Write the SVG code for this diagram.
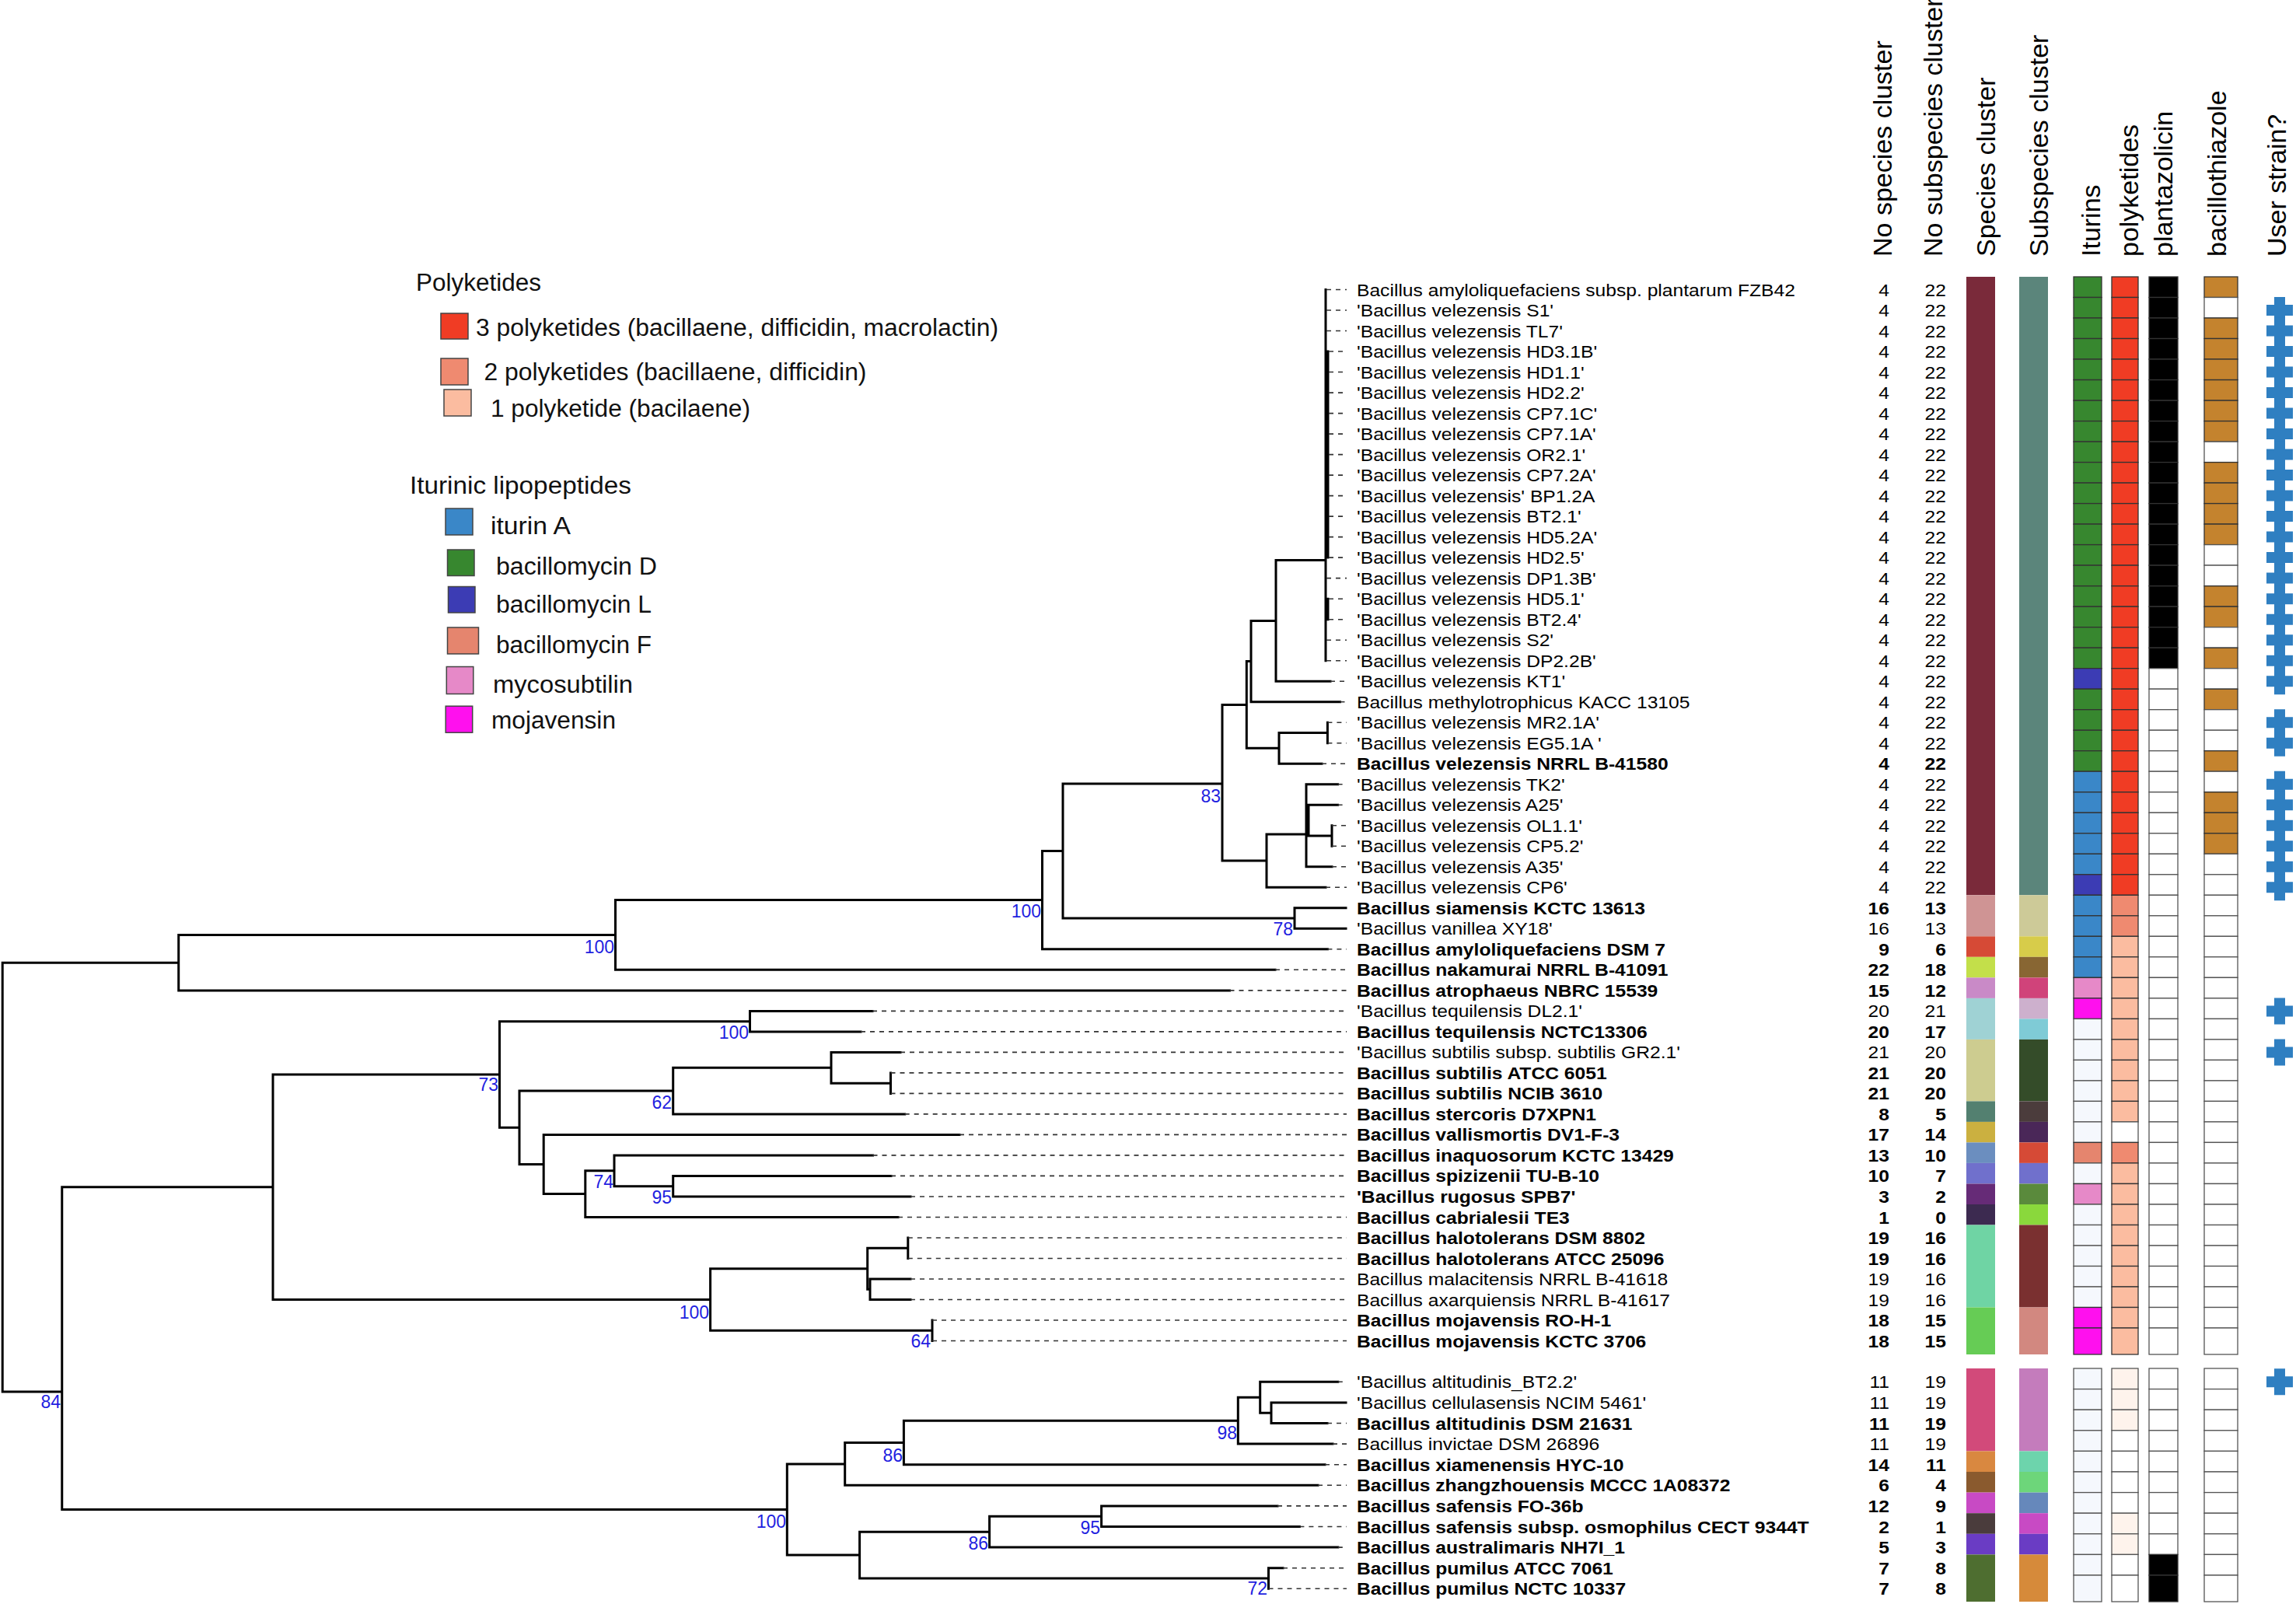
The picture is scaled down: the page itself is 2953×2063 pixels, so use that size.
<svg xmlns="http://www.w3.org/2000/svg" width="2953" height="2063" viewBox="0 0 2953 2063">
<style>
text{font-family:"Liberation Sans",Arial,sans-serif}
.l{font-size:22px;fill:#000}
.n{font-size:22px;fill:#000;text-anchor:end}
.b{font-weight:700}
.h{font-size:34px;fill:#000}
.lg{font-size:31px;fill:#111}
.bs{font-size:23px;fill:#1f1fe0;text-anchor:end}
.tree{fill:none;stroke:#000;stroke-width:3;stroke-linecap:square}
.dash{fill:none;stroke:#333;stroke-width:1.6;stroke-dasharray:6 6}
rect{stroke:#333;stroke-width:1.3}
.bar rect{stroke:none}
.ig{fill:#37872f}.il{fill:#3c3cb4}.ia{fill:#3a87c8}.im{fill:#e689c8}.ij{fill:#ff10ee}.if{fill:#e5856e}.ie{fill:#f5f8fd;stroke:#555}
.p3{fill:#f03c24}.p2{fill:#ef8a70}.p1{fill:#fbbca0}.p0{fill:#fff;stroke:#555}.pv{fill:#fef3ec;stroke:#555}
.k{fill:#000}.w{fill:#fff;stroke:#555}.t{fill:#c4832e}
.cr{fill:#2f7fc1}
.lsq{stroke:#444;stroke-width:1.5}
</style>
<defs>
<path id="cross" class="cr" d="M-7,-17H7V-7H17V7H7V17H-7V7H-17V-7H-7Z"/>
</defs>

<g id="headers">
<text class="h" transform="translate(2433 330) rotate(-90)">No species cluster</text>
<text class="h" transform="translate(2498 330) rotate(-90)">No subspecies cluster</text>
<text class="h" transform="translate(2566 330) rotate(-90)">Species cluster</text>
<text class="h" transform="translate(2634 330) rotate(-90)">Subspecies cluster</text>
<text class="h" transform="translate(2701 330) rotate(-90)">Iturins</text>
<text class="h" transform="translate(2750 330) rotate(-90)">polyketides</text>
<text class="h" transform="translate(2794 330) rotate(-90)">plantazolicin</text>
<text class="h" transform="translate(2863 330) rotate(-90)">bacillothiazole</text>
<text class="h" transform="translate(2940 330) rotate(-90)">User strain?</text>
</g>

<g id="legend">
<text class="lg" x="535" y="373.6" textLength="161" lengthAdjust="spacingAndGlyphs">Polyketides</text>
<rect class="lsq" x="567" y="403" width="35" height="33" fill="#f03c24"/>
<text class="lg" x="612" y="432" textLength="672" lengthAdjust="spacingAndGlyphs">3 polyketides (bacillaene, difficidin, macrolactin)</text>
<rect class="lsq" x="567" y="461" width="35" height="34" fill="#ef8a70"/>
<text class="lg" x="622.5" y="488.6" textLength="492" lengthAdjust="spacingAndGlyphs">2 polyketides (bacillaene, difficidin)</text>
<rect class="lsq" x="571" y="501" width="35" height="34" fill="#fbbca0"/>
<text class="lg" x="631" y="536" textLength="334" lengthAdjust="spacingAndGlyphs">1 polyketide (bacilaene)</text>
<text class="lg" x="527" y="635.4" textLength="285" lengthAdjust="spacingAndGlyphs">Iturinic lipopeptides</text>
<rect class="lsq" x="573" y="654" width="35" height="34" fill="#3a87c8"/>
<text class="lg" x="631" y="687" textLength="103" lengthAdjust="spacingAndGlyphs">iturin A</text>
<rect class="lsq" x="575.5" y="707" width="34.5" height="33.5" fill="#37872f"/>
<text class="lg" x="638" y="738.5" textLength="207" lengthAdjust="spacingAndGlyphs">bacillomycin D</text>
<rect class="lsq" x="576.5" y="754.5" width="34.5" height="33.5" fill="#3c3cb4"/>
<text class="lg" x="638" y="788" textLength="200" lengthAdjust="spacingAndGlyphs">bacillomycin L</text>
<rect class="lsq" x="575.5" y="807" width="40" height="34" fill="#e5856e"/>
<text class="lg" x="638" y="839.6" textLength="200" lengthAdjust="spacingAndGlyphs">bacillomycin F</text>
<rect class="lsq" x="574.3" y="857.5" width="34.5" height="35" fill="#e689c8"/>
<text class="lg" x="634" y="891" textLength="180" lengthAdjust="spacingAndGlyphs">mycosubtilin</text>
<rect class="lsq" x="573.2" y="908.2" width="34.5" height="34" fill="#ff10ee"/>
<text class="lg" x="632" y="937" textLength="160" lengthAdjust="spacingAndGlyphs">mojavensin</text>
</g>

<g id="tree">
<path class="tree" d="M3.2,1238.2V1789.9 M3.2,1238.2H229.7 M229.7,1202.5V1273.9 M229.7,1202.5H791.5 M229.7,1273.9H1581.5
M791.5,1157.6V1247.3 M791.5,1157.6H1340.5 M791.5,1247.3H1640
M1340.5,1094.5V1220.8 M1340.5,1094.5H1367 M1340.5,1220.8H1707.4
M1367,1008V1181 M1367,1008H1572 M1367,1181H1665
M1665,1167.8V1194.3 M1665,1167.8H1731 M1665,1194.3H1731
M1572,906.4V1107 M1572,906.4H1603.3 M1572,1107H1629
M1603.3,850.5V962.3 M1603.3,850.5H1609 M1603.3,962.3H1645
M1609,798.4V902.7 M1609,798.4H1641 M1609,902.7H1723.5
M1641,720.5V876.2 M1641,720.5H1705 M1641,876.2H1711
M1705,372.5V849.7 M1708,452V717.1 M1708,770.2V796.7
M1645,942.5V982.2 M1645,942.5H1707.4 M1645,982.2H1700
M1707.4,929.2V955.7
M1629,1073V1141.3 M1629,1073H1680 M1629,1141.3H1705
M1680,1008.7V1114.8 M1683,1035.3V1075 M1680,1008.7H1720.6 M1683,1035.3H1720.6 M1683,1075H1713
M1713,1061.8V1088.3 M1680,1114.8H1713
M3.2,1789.9H79.75 M79.75,1526.8V1941.5 M79.75,1526.8H351 M79.75,1941.5H1012.3
M351,1382V1671.5 M351,1382H642.5 M351,1671.5H913.6
M642.5,1313.7V1450.3 M642.5,1313.7H964.5 M642.5,1450.3H668
M964.5,1300.4V1326.9 M964.5,1300.4H1122 M964.5,1326.9H1107
M668,1403.1V1497.5 M668,1403.1H865.7 M668,1497.5H699.2
M865.7,1373.3V1432.9 M865.7,1373.3H1069 M865.7,1432.9H1163.7
M1069,1353.4V1393.2 M1069,1353.4H1158 M1069,1393.2H1145.5
M1145.5,1379.9V1406.4
M699.2,1459.4V1535.6 M699.2,1459.4H1234 M699.2,1535.6H752.8
M752.8,1505.8V1565.5 M752.8,1505.8H790 M752.8,1565.5H1155
M790,1485.9V1525.7 M790,1485.9H1122.5 M790,1525.7H865.7
M865.7,1512.4V1539 M865.7,1512.4H1146 M865.7,1539H1171
M913.6,1631.7V1711.2 M913.6,1631.7H1115.7 M913.6,1711.2H1199
M1115.7,1605.2V1658.2 M1115.7,1605.2H1167.8 M1115.7,1658.2H1119
M1167.8,1592V1618.5 M1119,1645V1671.5 M1119,1645H1171 M1119,1671.5H1171
M1199,1698V1724.5
M1012.3,1882.9V2000.1 M1012.3,1882.9H1086.7 M1012.3,2000.1H1105.6
M1086.7,1855.5V1910.3 M1086.7,1855.5H1162.4 M1086.7,1910.3H1695
M1162.4,1827.2V1883.7 M1162.4,1827.2H1592.3 M1162.4,1883.7H1704
M1592.3,1797.3V1857.1 M1592.3,1797.3H1620.7 M1592.3,1857.1H1714
M1620.7,1777.3V1817.2 M1620.7,1777.3H1720.8 M1620.7,1817.2H1635
M1635,1803.9V1830.5 M1635,1803.9H1731 M1635,1830.5H1707
M1105.6,1970.2V2030 M1105.6,1970.2H1272.6 M1105.6,2030H1631.5
M1272.6,1950.2V1990.1 M1272.6,1950.2H1416.6 M1272.6,1990.1H1720.8
M1416.6,1936.9V1963.5 M1416.6,1936.9H1643 M1416.6,1963.5H1671.4
M1631.5,2016.7V2043.3 M1631.5,2016.7H1650"/>
<path class="dash" d="M1706,372.5H1732 M1706,399H1732 M1706,425.5H1732 M1709,452H1732 M1709,478.5H1732 M1709,505.1H1732 M1709,531.6H1732 M1709,558.1H1732 M1709,584.6H1732 M1709,611.1H1732 M1709,637.6H1732 M1709,664.1H1732 M1709,690.6H1732 M1709,717.1H1732 M1706,743.6H1732 M1709,770.2H1732 M1709,796.7H1732 M1706,823.2H1732 M1706,849.7H1732
M1711,876.2H1732 M1723.5,902.7H1732 M1707.4,929.2H1732 M1707.4,955.7H1732 M1700,982.2H1732 M1720.6,1008.7H1732 M1720.6,1035.3H1732 M1713,1061.8H1732 M1713,1088.3H1732 M1713,1114.8H1732 M1705,1141.3H1732
M1707.4,1220.8H1732 M1640,1247.3H1732 M1581.5,1273.9H1732 M1122,1300.4H1732 M1107,1326.9H1732 M1158,1353.4H1732 M1145.5,1379.9H1732 M1145.5,1406.4H1732 M1163.7,1432.9H1732 M1234,1459.4H1732 M1122.5,1485.9H1732 M1146,1512.4H1732 M1171,1539H1732 M1155,1565.5H1732 M1167.8,1592H1732 M1167.8,1618.5H1732 M1171,1645H1732 M1171,1671.5H1732 M1199,1698H1732 M1199,1724.5H1732
M1720.8,1777.3H1732 M1707,1830.5H1732 M1714,1857.1H1732 M1704,1883.7H1732 M1695,1910.3H1732 M1643,1936.9H1732 M1671.4,1963.5H1732 M1720.8,1990.1H1732 M1650,2016.7H1732 M1631.5,2043.3H1732"/>
<g id="bootstrap">
<text class="bs" x="790" y="1226">100</text>
<text class="bs" x="1339" y="1180">100</text>
<text class="bs" x="1570" y="1032">83</text>
<text class="bs" x="1663" y="1203">78</text>
<text class="bs" x="963" y="1336">100</text>
<text class="bs" x="641" y="1403">73</text>
<text class="bs" x="864" y="1426">62</text>
<text class="bs" x="789" y="1528">74</text>
<text class="bs" x="864" y="1548">95</text>
<text class="bs" x="912" y="1696">100</text>
<text class="bs" x="1197" y="1733">64</text>
<text class="bs" x="78" y="1811">84</text>
<text class="bs" x="1011" y="1965">100</text>
<text class="bs" x="1161" y="1880">86</text>
<text class="bs" x="1591" y="1851">98</text>
<text class="bs" x="1271" y="1993">86</text>
<text class="bs" x="1415" y="1973">95</text>
<text class="bs" x="1630" y="2051">72</text>
</g>
</g>

<g id="species-bars" class="bar">
<rect x="2529" y="356" width="37" height="795.3" fill="#7a2a3a"/>
<rect x="2529" y="1151.3" width="37" height="53" fill="#cf9494"/>
<rect x="2529" y="1204.3" width="37" height="26.5" fill="#d64a36"/>
<rect x="2529" y="1230.8" width="37" height="26.6" fill="#c3df4a"/>
<rect x="2529" y="1257.4" width="37" height="26.5" fill="#c98ac7"/>
<rect x="2529" y="1283.9" width="37" height="53" fill="#9fd2d4"/>
<rect x="2529" y="1336.9" width="37" height="79.5" fill="#cdcc90"/>
<rect x="2529" y="1416.4" width="37" height="26.5" fill="#538070"/>
<rect x="2529" y="1442.9" width="37" height="26.5" fill="#cbb040"/>
<rect x="2529" y="1469.4" width="37" height="26.5" fill="#6b8ebf"/>
<rect x="2529" y="1495.9" width="37" height="26.6" fill="#7070cc"/>
<rect x="2529" y="1522.5" width="37" height="26.5" fill="#662b77"/>
<rect x="2529" y="1549" width="37" height="26.5" fill="#3c2a50"/>
<rect x="2529" y="1575.5" width="37" height="106" fill="#6fd4a4"/>
<rect x="2529" y="1681.5" width="37" height="60.5" fill="#66cc55"/>
<rect x="2529" y="1760" width="37" height="106.4" fill="#d24a7a"/>
<rect x="2529" y="1866.4" width="37" height="26.6" fill="#d98840"/>
<rect x="2529" y="1893" width="37" height="26.6" fill="#8a5a2e"/>
<rect x="2529" y="1919.6" width="37" height="26.6" fill="#c84ac4"/>
<rect x="2529" y="1946.2" width="37" height="26.6" fill="#4a3c3c"/>
<rect x="2529" y="1972.8" width="37" height="26.6" fill="#6a3cc4"/>
<rect x="2529" y="1999.4" width="37" height="60.6" fill="#4e6e30"/>
</g>
<g id="subspecies-bars" class="bar">
<rect x="2597" y="356" width="37" height="795.3" fill="#5b857b"/>
<rect x="2597" y="1151.3" width="37" height="53" fill="#cdca98"/>
<rect x="2597" y="1204.3" width="37" height="26.5" fill="#d7cc4a"/>
<rect x="2597" y="1230.8" width="37" height="26.6" fill="#886633"/>
<rect x="2597" y="1257.4" width="37" height="26.5" fill="#d0437a"/>
<rect x="2597" y="1283.9" width="37" height="26.5" fill="#cdb0cd"/>
<rect x="2597" y="1310.4" width="37" height="26.5" fill="#7fcbd6"/>
<rect x="2597" y="1336.9" width="37" height="79.5" fill="#344c29"/>
<rect x="2597" y="1416.4" width="37" height="26.5" fill="#4b3c3c"/>
<rect x="2597" y="1442.9" width="37" height="26.5" fill="#4a2758"/>
<rect x="2597" y="1469.4" width="37" height="26.5" fill="#d64a36"/>
<rect x="2597" y="1495.9" width="37" height="26.6" fill="#7070cc"/>
<rect x="2597" y="1522.5" width="37" height="26.5" fill="#5a8a3c"/>
<rect x="2597" y="1549" width="37" height="26.5" fill="#8ad83c"/>
<rect x="2597" y="1575.5" width="37" height="106" fill="#7a3030"/>
<rect x="2597" y="1681.5" width="37" height="60.5" fill="#d28880"/>
<rect x="2597" y="1760" width="37" height="106.4" fill="#c47cbc"/>
<rect x="2597" y="1866.4" width="37" height="26.6" fill="#6dd4ac"/>
<rect x="2597" y="1893" width="37" height="26.6" fill="#6dd67a"/>
<rect x="2597" y="1919.6" width="37" height="26.6" fill="#6688bb"/>
<rect x="2597" y="1946.2" width="37" height="26.6" fill="#c84ac4"/>
<rect x="2597" y="1972.8" width="37" height="26.6" fill="#6a3cc4"/>
<rect x="2597" y="1999.4" width="37" height="60.6" fill="#d68a3a"/>
</g>

<g id="r01"><text class="l" transform="matrix(1.12 0 0 1 1745 380.5)">Bacillus amyloliquefaciens subsp. plantarum FZB42</text><text class="n" transform="matrix(1.12 0 0 1 2430 380.5)">4</text><text class="n" transform="matrix(1.12 0 0 1 2503 380.5)">22</text><rect class="ig" x="2667" y="356" width="36" height="26.5"/><rect class="p3" x="2716" y="356" width="34" height="26.5"/><rect class="k" x="2764" y="356" width="37" height="26.5"/><rect class="t" x="2835" y="356" width="43" height="26.5"/></g>
<g id="r02"><text class="l" transform="matrix(1.12 0 0 1 1745 407)">'Bacillus velezensis S1'</text><text class="n" transform="matrix(1.12 0 0 1 2430 407)">4</text><text class="n" transform="matrix(1.12 0 0 1 2503 407)">22</text><rect class="ig" x="2667" y="382.5" width="36" height="26.5"/><rect class="p3" x="2716" y="382.5" width="34" height="26.5"/><rect class="k" x="2764" y="382.5" width="37" height="26.5"/><rect class="w" x="2835" y="382.5" width="43" height="26.5"/><use href="#cross" x="2932" y="399"/></g>
<g id="r03"><text class="l" transform="matrix(1.12 0 0 1 1745 433.5)">'Bacillus velezensis TL7'</text><text class="n" transform="matrix(1.12 0 0 1 2430 433.5)">4</text><text class="n" transform="matrix(1.12 0 0 1 2503 433.5)">22</text><rect class="ig" x="2667" y="409" width="36" height="26.5"/><rect class="p3" x="2716" y="409" width="34" height="26.5"/><rect class="k" x="2764" y="409" width="37" height="26.5"/><rect class="t" x="2835" y="409" width="43" height="26.5"/><use href="#cross" x="2932" y="425.5"/></g>
<g id="r04"><text class="l" transform="matrix(1.12 0 0 1 1745 460)">'Bacillus velezensis HD3.1B'</text><text class="n" transform="matrix(1.12 0 0 1 2430 460)">4</text><text class="n" transform="matrix(1.12 0 0 1 2503 460)">22</text><rect class="ig" x="2667" y="435.5" width="36" height="26.5"/><rect class="p3" x="2716" y="435.5" width="34" height="26.5"/><rect class="k" x="2764" y="435.5" width="37" height="26.5"/><rect class="t" x="2835" y="435.5" width="43" height="26.5"/><use href="#cross" x="2932" y="452"/></g>
<g id="r05"><text class="l" transform="matrix(1.12 0 0 1 1745 486.5)">'Bacillus velezensis HD1.1'</text><text class="n" transform="matrix(1.12 0 0 1 2430 486.5)">4</text><text class="n" transform="matrix(1.12 0 0 1 2503 486.5)">22</text><rect class="ig" x="2667" y="462" width="36" height="26.5"/><rect class="p3" x="2716" y="462" width="34" height="26.5"/><rect class="k" x="2764" y="462" width="37" height="26.5"/><rect class="t" x="2835" y="462" width="43" height="26.5"/><use href="#cross" x="2932" y="478.5"/></g>
<g id="r06"><text class="l" transform="matrix(1.12 0 0 1 1745 513.1)">'Bacillus velezensis HD2.2'</text><text class="n" transform="matrix(1.12 0 0 1 2430 513.1)">4</text><text class="n" transform="matrix(1.12 0 0 1 2503 513.1)">22</text><rect class="ig" x="2667" y="488.6" width="36" height="26.5"/><rect class="p3" x="2716" y="488.6" width="34" height="26.5"/><rect class="k" x="2764" y="488.6" width="37" height="26.5"/><rect class="t" x="2835" y="488.6" width="43" height="26.5"/><use href="#cross" x="2932" y="505.1"/></g>
<g id="r07"><text class="l" transform="matrix(1.12 0 0 1 1745 539.6)">'Bacillus velezensis CP7.1C'</text><text class="n" transform="matrix(1.12 0 0 1 2430 539.6)">4</text><text class="n" transform="matrix(1.12 0 0 1 2503 539.6)">22</text><rect class="ig" x="2667" y="515.1" width="36" height="26.5"/><rect class="p3" x="2716" y="515.1" width="34" height="26.5"/><rect class="k" x="2764" y="515.1" width="37" height="26.5"/><rect class="t" x="2835" y="515.1" width="43" height="26.5"/><use href="#cross" x="2932" y="531.6"/></g>
<g id="r08"><text class="l" transform="matrix(1.12 0 0 1 1745 566.1)">'Bacillus velezensis CP7.1A'</text><text class="n" transform="matrix(1.12 0 0 1 2430 566.1)">4</text><text class="n" transform="matrix(1.12 0 0 1 2503 566.1)">22</text><rect class="ig" x="2667" y="541.6" width="36" height="26.5"/><rect class="p3" x="2716" y="541.6" width="34" height="26.5"/><rect class="k" x="2764" y="541.6" width="37" height="26.5"/><rect class="t" x="2835" y="541.6" width="43" height="26.5"/><use href="#cross" x="2932" y="558.1"/></g>
<g id="r09"><text class="l" transform="matrix(1.12 0 0 1 1745 592.6)">'Bacillus velezensis OR2.1'</text><text class="n" transform="matrix(1.12 0 0 1 2430 592.6)">4</text><text class="n" transform="matrix(1.12 0 0 1 2503 592.6)">22</text><rect class="ig" x="2667" y="568.1" width="36" height="26.5"/><rect class="p3" x="2716" y="568.1" width="34" height="26.5"/><rect class="k" x="2764" y="568.1" width="37" height="26.5"/><rect class="w" x="2835" y="568.1" width="43" height="26.5"/><use href="#cross" x="2932" y="584.6"/></g>
<g id="r10"><text class="l" transform="matrix(1.12 0 0 1 1745 619.1)">'Bacillus velezensis CP7.2A'</text><text class="n" transform="matrix(1.12 0 0 1 2430 619.1)">4</text><text class="n" transform="matrix(1.12 0 0 1 2503 619.1)">22</text><rect class="ig" x="2667" y="594.6" width="36" height="26.5"/><rect class="p3" x="2716" y="594.6" width="34" height="26.5"/><rect class="k" x="2764" y="594.6" width="37" height="26.5"/><rect class="t" x="2835" y="594.6" width="43" height="26.5"/><use href="#cross" x="2932" y="611.1"/></g>
<g id="r11"><text class="l" transform="matrix(1.12 0 0 1 1745 645.6)">'Bacillus velezensis' BP1.2A</text><text class="n" transform="matrix(1.12 0 0 1 2430 645.6)">4</text><text class="n" transform="matrix(1.12 0 0 1 2503 645.6)">22</text><rect class="ig" x="2667" y="621.1" width="36" height="26.5"/><rect class="p3" x="2716" y="621.1" width="34" height="26.5"/><rect class="k" x="2764" y="621.1" width="37" height="26.5"/><rect class="t" x="2835" y="621.1" width="43" height="26.5"/><use href="#cross" x="2932" y="637.6"/></g>
<g id="r12"><text class="l" transform="matrix(1.12 0 0 1 1745 672.1)">'Bacillus velezensis BT2.1'</text><text class="n" transform="matrix(1.12 0 0 1 2430 672.1)">4</text><text class="n" transform="matrix(1.12 0 0 1 2503 672.1)">22</text><rect class="ig" x="2667" y="647.6" width="36" height="26.5"/><rect class="p3" x="2716" y="647.6" width="34" height="26.5"/><rect class="k" x="2764" y="647.6" width="37" height="26.5"/><rect class="t" x="2835" y="647.6" width="43" height="26.5"/><use href="#cross" x="2932" y="664.1"/></g>
<g id="r13"><text class="l" transform="matrix(1.12 0 0 1 1745 698.6)">'Bacillus velezensis HD5.2A'</text><text class="n" transform="matrix(1.12 0 0 1 2430 698.6)">4</text><text class="n" transform="matrix(1.12 0 0 1 2503 698.6)">22</text><rect class="ig" x="2667" y="674.1" width="36" height="26.5"/><rect class="p3" x="2716" y="674.1" width="34" height="26.5"/><rect class="k" x="2764" y="674.1" width="37" height="26.5"/><rect class="t" x="2835" y="674.1" width="43" height="26.5"/><use href="#cross" x="2932" y="690.6"/></g>
<g id="r14"><text class="l" transform="matrix(1.12 0 0 1 1745 725.1)">'Bacillus velezensis HD2.5'</text><text class="n" transform="matrix(1.12 0 0 1 2430 725.1)">4</text><text class="n" transform="matrix(1.12 0 0 1 2503 725.1)">22</text><rect class="ig" x="2667" y="700.6" width="36" height="26.5"/><rect class="p3" x="2716" y="700.6" width="34" height="26.5"/><rect class="k" x="2764" y="700.6" width="37" height="26.5"/><rect class="w" x="2835" y="700.6" width="43" height="26.5"/><use href="#cross" x="2932" y="717.1"/></g>
<g id="r15"><text class="l" transform="matrix(1.12 0 0 1 1745 751.6)">'Bacillus velezensis DP1.3B'</text><text class="n" transform="matrix(1.12 0 0 1 2430 751.6)">4</text><text class="n" transform="matrix(1.12 0 0 1 2503 751.6)">22</text><rect class="ig" x="2667" y="727.1" width="36" height="26.5"/><rect class="p3" x="2716" y="727.1" width="34" height="26.5"/><rect class="k" x="2764" y="727.1" width="37" height="26.5"/><rect class="w" x="2835" y="727.1" width="43" height="26.5"/><use href="#cross" x="2932" y="743.6"/></g>
<g id="r16"><text class="l" transform="matrix(1.12 0 0 1 1745 778.2)">'Bacillus velezensis HD5.1'</text><text class="n" transform="matrix(1.12 0 0 1 2430 778.2)">4</text><text class="n" transform="matrix(1.12 0 0 1 2503 778.2)">22</text><rect class="ig" x="2667" y="753.7" width="36" height="26.5"/><rect class="p3" x="2716" y="753.7" width="34" height="26.5"/><rect class="k" x="2764" y="753.7" width="37" height="26.5"/><rect class="t" x="2835" y="753.7" width="43" height="26.5"/><use href="#cross" x="2932" y="770.2"/></g>
<g id="r17"><text class="l" transform="matrix(1.12 0 0 1 1745 804.7)">'Bacillus velezensis BT2.4'</text><text class="n" transform="matrix(1.12 0 0 1 2430 804.7)">4</text><text class="n" transform="matrix(1.12 0 0 1 2503 804.7)">22</text><rect class="ig" x="2667" y="780.2" width="36" height="26.5"/><rect class="p3" x="2716" y="780.2" width="34" height="26.5"/><rect class="k" x="2764" y="780.2" width="37" height="26.5"/><rect class="t" x="2835" y="780.2" width="43" height="26.5"/><use href="#cross" x="2932" y="796.7"/></g>
<g id="r18"><text class="l" transform="matrix(1.12 0 0 1 1745 831.2)">'Bacillus velezensis S2'</text><text class="n" transform="matrix(1.12 0 0 1 2430 831.2)">4</text><text class="n" transform="matrix(1.12 0 0 1 2503 831.2)">22</text><rect class="ig" x="2667" y="806.7" width="36" height="26.5"/><rect class="p3" x="2716" y="806.7" width="34" height="26.5"/><rect class="k" x="2764" y="806.7" width="37" height="26.5"/><rect class="w" x="2835" y="806.7" width="43" height="26.5"/><use href="#cross" x="2932" y="823.2"/></g>
<g id="r19"><text class="l" transform="matrix(1.12 0 0 1 1745 857.7)">'Bacillus velezensis DP2.2B'</text><text class="n" transform="matrix(1.12 0 0 1 2430 857.7)">4</text><text class="n" transform="matrix(1.12 0 0 1 2503 857.7)">22</text><rect class="ig" x="2667" y="833.2" width="36" height="26.5"/><rect class="p3" x="2716" y="833.2" width="34" height="26.5"/><rect class="k" x="2764" y="833.2" width="37" height="26.5"/><rect class="t" x="2835" y="833.2" width="43" height="26.5"/><use href="#cross" x="2932" y="849.7"/></g>
<g id="r20"><text class="l" transform="matrix(1.12 0 0 1 1745 884.2)">'Bacillus velezensis KT1'</text><text class="n" transform="matrix(1.12 0 0 1 2430 884.2)">4</text><text class="n" transform="matrix(1.12 0 0 1 2503 884.2)">22</text><rect class="il" x="2667" y="859.7" width="36" height="26.5"/><rect class="p3" x="2716" y="859.7" width="34" height="26.5"/><rect class="w" x="2764" y="859.7" width="37" height="26.5"/><rect class="w" x="2835" y="859.7" width="43" height="26.5"/><use href="#cross" x="2932" y="876.2"/></g>
<g id="r21"><text class="l" transform="matrix(1.12 0 0 1 1745 910.7)">Bacillus methylotrophicus KACC 13105</text><text class="n" transform="matrix(1.12 0 0 1 2430 910.7)">4</text><text class="n" transform="matrix(1.12 0 0 1 2503 910.7)">22</text><rect class="ig" x="2667" y="886.2" width="36" height="26.5"/><rect class="p3" x="2716" y="886.2" width="34" height="26.5"/><rect class="w" x="2764" y="886.2" width="37" height="26.5"/><rect class="t" x="2835" y="886.2" width="43" height="26.5"/></g>
<g id="r22"><text class="l" transform="matrix(1.12 0 0 1 1745 937.2)">'Bacillus velezensis MR2.1A'</text><text class="n" transform="matrix(1.12 0 0 1 2430 937.2)">4</text><text class="n" transform="matrix(1.12 0 0 1 2503 937.2)">22</text><rect class="ig" x="2667" y="912.7" width="36" height="26.5"/><rect class="p3" x="2716" y="912.7" width="34" height="26.5"/><rect class="w" x="2764" y="912.7" width="37" height="26.5"/><rect class="w" x="2835" y="912.7" width="43" height="26.5"/><use href="#cross" x="2932" y="929.2"/></g>
<g id="r23"><text class="l" transform="matrix(1.12 0 0 1 1745 963.7)">'Bacillus velezensis EG5.1A '</text><text class="n" transform="matrix(1.12 0 0 1 2430 963.7)">4</text><text class="n" transform="matrix(1.12 0 0 1 2503 963.7)">22</text><rect class="ig" x="2667" y="939.2" width="36" height="26.5"/><rect class="p3" x="2716" y="939.2" width="34" height="26.5"/><rect class="w" x="2764" y="939.2" width="37" height="26.5"/><rect class="w" x="2835" y="939.2" width="43" height="26.5"/><use href="#cross" x="2932" y="955.7"/></g>
<g id="r24"><text class="l b" transform="matrix(1.12 0 0 1 1745 990.2)">Bacillus velezensis NRRL B-41580</text><text class="n b" transform="matrix(1.12 0 0 1 2430 990.2)">4</text><text class="n b" transform="matrix(1.12 0 0 1 2503 990.2)">22</text><rect class="ig" x="2667" y="965.7" width="36" height="26.5"/><rect class="p3" x="2716" y="965.7" width="34" height="26.5"/><rect class="w" x="2764" y="965.7" width="37" height="26.5"/><rect class="t" x="2835" y="965.7" width="43" height="26.5"/></g>
<g id="r25"><text class="l" transform="matrix(1.12 0 0 1 1745 1016.7)">'Bacillus velezensis TK2'</text><text class="n" transform="matrix(1.12 0 0 1 2430 1016.7)">4</text><text class="n" transform="matrix(1.12 0 0 1 2503 1016.7)">22</text><rect class="ia" x="2667" y="992.2" width="36" height="26.5"/><rect class="p3" x="2716" y="992.2" width="34" height="26.5"/><rect class="w" x="2764" y="992.2" width="37" height="26.5"/><rect class="w" x="2835" y="992.2" width="43" height="26.5"/><use href="#cross" x="2932" y="1008.7"/></g>
<g id="r26"><text class="l" transform="matrix(1.12 0 0 1 1745 1043.3)">'Bacillus velezensis A25'</text><text class="n" transform="matrix(1.12 0 0 1 2430 1043.3)">4</text><text class="n" transform="matrix(1.12 0 0 1 2503 1043.3)">22</text><rect class="ia" x="2667" y="1018.8" width="36" height="26.5"/><rect class="p3" x="2716" y="1018.8" width="34" height="26.5"/><rect class="w" x="2764" y="1018.8" width="37" height="26.5"/><rect class="t" x="2835" y="1018.8" width="43" height="26.5"/><use href="#cross" x="2932" y="1035.3"/></g>
<g id="r27"><text class="l" transform="matrix(1.12 0 0 1 1745 1069.8)">'Bacillus velezensis OL1.1'</text><text class="n" transform="matrix(1.12 0 0 1 2430 1069.8)">4</text><text class="n" transform="matrix(1.12 0 0 1 2503 1069.8)">22</text><rect class="ia" x="2667" y="1045.3" width="36" height="26.5"/><rect class="p3" x="2716" y="1045.3" width="34" height="26.5"/><rect class="w" x="2764" y="1045.3" width="37" height="26.5"/><rect class="t" x="2835" y="1045.3" width="43" height="26.5"/><use href="#cross" x="2932" y="1061.8"/></g>
<g id="r28"><text class="l" transform="matrix(1.12 0 0 1 1745 1096.3)">'Bacillus velezensis CP5.2'</text><text class="n" transform="matrix(1.12 0 0 1 2430 1096.3)">4</text><text class="n" transform="matrix(1.12 0 0 1 2503 1096.3)">22</text><rect class="ia" x="2667" y="1071.8" width="36" height="26.5"/><rect class="p3" x="2716" y="1071.8" width="34" height="26.5"/><rect class="w" x="2764" y="1071.8" width="37" height="26.5"/><rect class="t" x="2835" y="1071.8" width="43" height="26.5"/><use href="#cross" x="2932" y="1088.3"/></g>
<g id="r29"><text class="l" transform="matrix(1.12 0 0 1 1745 1122.8)">'Bacillus velezensis A35'</text><text class="n" transform="matrix(1.12 0 0 1 2430 1122.8)">4</text><text class="n" transform="matrix(1.12 0 0 1 2503 1122.8)">22</text><rect class="ia" x="2667" y="1098.3" width="36" height="26.5"/><rect class="p3" x="2716" y="1098.3" width="34" height="26.5"/><rect class="w" x="2764" y="1098.3" width="37" height="26.5"/><rect class="w" x="2835" y="1098.3" width="43" height="26.5"/><use href="#cross" x="2932" y="1114.8"/></g>
<g id="r30"><text class="l" transform="matrix(1.12 0 0 1 1745 1149.3)">'Bacillus velezensis CP6'</text><text class="n" transform="matrix(1.12 0 0 1 2430 1149.3)">4</text><text class="n" transform="matrix(1.12 0 0 1 2503 1149.3)">22</text><rect class="il" x="2667" y="1124.8" width="36" height="26.5"/><rect class="p3" x="2716" y="1124.8" width="34" height="26.5"/><rect class="w" x="2764" y="1124.8" width="37" height="26.5"/><rect class="w" x="2835" y="1124.8" width="43" height="26.5"/><use href="#cross" x="2932" y="1141.3"/></g>
<g id="r31"><text class="l b" transform="matrix(1.12 0 0 1 1745 1175.8)">Bacillus siamensis KCTC 13613</text><text class="n b" transform="matrix(1.12 0 0 1 2430 1175.8)">16</text><text class="n b" transform="matrix(1.12 0 0 1 2503 1175.8)">13</text><rect class="ia" x="2667" y="1151.3" width="36" height="26.5"/><rect class="p2" x="2716" y="1151.3" width="34" height="26.5"/><rect class="w" x="2764" y="1151.3" width="37" height="26.5"/><rect class="w" x="2835" y="1151.3" width="43" height="26.5"/></g>
<g id="r32"><text class="l" transform="matrix(1.12 0 0 1 1745 1202.3)">'Bacillus vanillea XY18'</text><text class="n" transform="matrix(1.12 0 0 1 2430 1202.3)">16</text><text class="n" transform="matrix(1.12 0 0 1 2503 1202.3)">13</text><rect class="ia" x="2667" y="1177.8" width="36" height="26.5"/><rect class="p2" x="2716" y="1177.8" width="34" height="26.5"/><rect class="w" x="2764" y="1177.8" width="37" height="26.5"/><rect class="w" x="2835" y="1177.8" width="43" height="26.5"/></g>
<g id="r33"><text class="l b" transform="matrix(1.12 0 0 1 1745 1228.8)">Bacillus amyloliquefaciens DSM 7</text><text class="n b" transform="matrix(1.12 0 0 1 2430 1228.8)">9</text><text class="n b" transform="matrix(1.12 0 0 1 2503 1228.8)">6</text><rect class="ia" x="2667" y="1204.3" width="36" height="26.5"/><rect class="p1" x="2716" y="1204.3" width="34" height="26.5"/><rect class="w" x="2764" y="1204.3" width="37" height="26.5"/><rect class="w" x="2835" y="1204.3" width="43" height="26.5"/></g>
<g id="r34"><text class="l b" transform="matrix(1.12 0 0 1 1745 1255.3)">Bacillus nakamurai NRRL B-41091</text><text class="n b" transform="matrix(1.12 0 0 1 2430 1255.3)">22</text><text class="n b" transform="matrix(1.12 0 0 1 2503 1255.3)">18</text><rect class="ia" x="2667" y="1230.8" width="36" height="26.5"/><rect class="p1" x="2716" y="1230.8" width="34" height="26.5"/><rect class="w" x="2764" y="1230.8" width="37" height="26.5"/><rect class="w" x="2835" y="1230.8" width="43" height="26.5"/></g>
<g id="r35"><text class="l b" transform="matrix(1.12 0 0 1 1745 1281.9)">Bacillus atrophaeus NBRC 15539</text><text class="n b" transform="matrix(1.12 0 0 1 2430 1281.9)">15</text><text class="n b" transform="matrix(1.12 0 0 1 2503 1281.9)">12</text><rect class="im" x="2667" y="1257.4" width="36" height="26.5"/><rect class="p1" x="2716" y="1257.4" width="34" height="26.5"/><rect class="w" x="2764" y="1257.4" width="37" height="26.5"/><rect class="w" x="2835" y="1257.4" width="43" height="26.5"/></g>
<g id="r36"><text class="l" transform="matrix(1.12 0 0 1 1745 1308.4)">'Bacillus tequilensis DL2.1'</text><text class="n" transform="matrix(1.12 0 0 1 2430 1308.4)">20</text><text class="n" transform="matrix(1.12 0 0 1 2503 1308.4)">21</text><rect class="ij" x="2667" y="1283.9" width="36" height="26.5"/><rect class="p1" x="2716" y="1283.9" width="34" height="26.5"/><rect class="w" x="2764" y="1283.9" width="37" height="26.5"/><rect class="w" x="2835" y="1283.9" width="43" height="26.5"/><use href="#cross" x="2932" y="1300.4"/></g>
<g id="r37"><text class="l b" transform="matrix(1.12 0 0 1 1745 1334.9)">Bacillus tequilensis NCTC13306</text><text class="n b" transform="matrix(1.12 0 0 1 2430 1334.9)">20</text><text class="n b" transform="matrix(1.12 0 0 1 2503 1334.9)">17</text><rect class="ie" x="2667" y="1310.4" width="36" height="26.5"/><rect class="p1" x="2716" y="1310.4" width="34" height="26.5"/><rect class="w" x="2764" y="1310.4" width="37" height="26.5"/><rect class="w" x="2835" y="1310.4" width="43" height="26.5"/></g>
<g id="r38"><text class="l" transform="matrix(1.12 0 0 1 1745 1361.4)">'Bacillus subtilis subsp. subtilis GR2.1'</text><text class="n" transform="matrix(1.12 0 0 1 2430 1361.4)">21</text><text class="n" transform="matrix(1.12 0 0 1 2503 1361.4)">20</text><rect class="ie" x="2667" y="1336.9" width="36" height="26.5"/><rect class="p1" x="2716" y="1336.9" width="34" height="26.5"/><rect class="w" x="2764" y="1336.9" width="37" height="26.5"/><rect class="w" x="2835" y="1336.9" width="43" height="26.5"/><use href="#cross" x="2932" y="1353.4"/></g>
<g id="r39"><text class="l b" transform="matrix(1.12 0 0 1 1745 1387.9)">Bacillus subtilis ATCC 6051</text><text class="n b" transform="matrix(1.12 0 0 1 2430 1387.9)">21</text><text class="n b" transform="matrix(1.12 0 0 1 2503 1387.9)">20</text><rect class="ie" x="2667" y="1363.4" width="36" height="26.5"/><rect class="p1" x="2716" y="1363.4" width="34" height="26.5"/><rect class="w" x="2764" y="1363.4" width="37" height="26.5"/><rect class="w" x="2835" y="1363.4" width="43" height="26.5"/></g>
<g id="r40"><text class="l b" transform="matrix(1.12 0 0 1 1745 1414.4)">Bacillus subtilis NCIB 3610</text><text class="n b" transform="matrix(1.12 0 0 1 2430 1414.4)">21</text><text class="n b" transform="matrix(1.12 0 0 1 2503 1414.4)">20</text><rect class="ie" x="2667" y="1389.9" width="36" height="26.5"/><rect class="p1" x="2716" y="1389.9" width="34" height="26.5"/><rect class="w" x="2764" y="1389.9" width="37" height="26.5"/><rect class="w" x="2835" y="1389.9" width="43" height="26.5"/></g>
<g id="r41"><text class="l b" transform="matrix(1.12 0 0 1 1745 1440.9)">Bacillus stercoris D7XPN1</text><text class="n b" transform="matrix(1.12 0 0 1 2430 1440.9)">8</text><text class="n b" transform="matrix(1.12 0 0 1 2503 1440.9)">5</text><rect class="ie" x="2667" y="1416.4" width="36" height="26.5"/><rect class="p1" x="2716" y="1416.4" width="34" height="26.5"/><rect class="w" x="2764" y="1416.4" width="37" height="26.5"/><rect class="w" x="2835" y="1416.4" width="43" height="26.5"/></g>
<g id="r42"><text class="l b" transform="matrix(1.12 0 0 1 1745 1467.4)">Bacillus vallismortis DV1-F-3</text><text class="n b" transform="matrix(1.12 0 0 1 2430 1467.4)">17</text><text class="n b" transform="matrix(1.12 0 0 1 2503 1467.4)">14</text><rect class="ie" x="2667" y="1442.9" width="36" height="26.5"/><rect class="p0" x="2716" y="1442.9" width="34" height="26.5"/><rect class="w" x="2764" y="1442.9" width="37" height="26.5"/><rect class="w" x="2835" y="1442.9" width="43" height="26.5"/></g>
<g id="r43"><text class="l b" transform="matrix(1.12 0 0 1 1745 1493.9)">Bacillus inaquosorum KCTC 13429</text><text class="n b" transform="matrix(1.12 0 0 1 2430 1493.9)">13</text><text class="n b" transform="matrix(1.12 0 0 1 2503 1493.9)">10</text><rect class="if" x="2667" y="1469.4" width="36" height="26.5"/><rect class="p2" x="2716" y="1469.4" width="34" height="26.5"/><rect class="w" x="2764" y="1469.4" width="37" height="26.5"/><rect class="w" x="2835" y="1469.4" width="43" height="26.5"/></g>
<g id="r44"><text class="l b" transform="matrix(1.12 0 0 1 1745 1520.4)">Bacillus spizizenii TU-B-10</text><text class="n b" transform="matrix(1.12 0 0 1 2430 1520.4)">10</text><text class="n b" transform="matrix(1.12 0 0 1 2503 1520.4)">7</text><rect class="ie" x="2667" y="1495.9" width="36" height="26.5"/><rect class="p1" x="2716" y="1495.9" width="34" height="26.5"/><rect class="w" x="2764" y="1495.9" width="37" height="26.5"/><rect class="w" x="2835" y="1495.9" width="43" height="26.5"/></g>
<g id="r45"><text class="l b" transform="matrix(1.12 0 0 1 1745 1547)">'Bacillus rugosus SPB7'</text><text class="n b" transform="matrix(1.12 0 0 1 2430 1547)">3</text><text class="n b" transform="matrix(1.12 0 0 1 2503 1547)">2</text><rect class="im" x="2667" y="1522.5" width="36" height="26.5"/><rect class="p1" x="2716" y="1522.5" width="34" height="26.5"/><rect class="w" x="2764" y="1522.5" width="37" height="26.5"/><rect class="w" x="2835" y="1522.5" width="43" height="26.5"/></g>
<g id="r46"><text class="l b" transform="matrix(1.12 0 0 1 1745 1573.5)">Bacillus cabrialesii TE3</text><text class="n b" transform="matrix(1.12 0 0 1 2430 1573.5)">1</text><text class="n b" transform="matrix(1.12 0 0 1 2503 1573.5)">0</text><rect class="ie" x="2667" y="1549" width="36" height="26.5"/><rect class="p1" x="2716" y="1549" width="34" height="26.5"/><rect class="w" x="2764" y="1549" width="37" height="26.5"/><rect class="w" x="2835" y="1549" width="43" height="26.5"/></g>
<g id="r47"><text class="l b" transform="matrix(1.12 0 0 1 1745 1600)">Bacillus halotolerans DSM 8802</text><text class="n b" transform="matrix(1.12 0 0 1 2430 1600)">19</text><text class="n b" transform="matrix(1.12 0 0 1 2503 1600)">16</text><rect class="ie" x="2667" y="1575.5" width="36" height="26.5"/><rect class="p1" x="2716" y="1575.5" width="34" height="26.5"/><rect class="w" x="2764" y="1575.5" width="37" height="26.5"/><rect class="w" x="2835" y="1575.5" width="43" height="26.5"/></g>
<g id="r48"><text class="l b" transform="matrix(1.12 0 0 1 1745 1626.5)">Bacillus halotolerans ATCC 25096</text><text class="n b" transform="matrix(1.12 0 0 1 2430 1626.5)">19</text><text class="n b" transform="matrix(1.12 0 0 1 2503 1626.5)">16</text><rect class="ie" x="2667" y="1602" width="36" height="26.5"/><rect class="p1" x="2716" y="1602" width="34" height="26.5"/><rect class="w" x="2764" y="1602" width="37" height="26.5"/><rect class="w" x="2835" y="1602" width="43" height="26.5"/></g>
<g id="r49"><text class="l" transform="matrix(1.12 0 0 1 1745 1653)">Bacillus malacitensis NRRL B-41618</text><text class="n" transform="matrix(1.12 0 0 1 2430 1653)">19</text><text class="n" transform="matrix(1.12 0 0 1 2503 1653)">16</text><rect class="ie" x="2667" y="1628.5" width="36" height="26.5"/><rect class="p1" x="2716" y="1628.5" width="34" height="26.5"/><rect class="w" x="2764" y="1628.5" width="37" height="26.5"/><rect class="w" x="2835" y="1628.5" width="43" height="26.5"/></g>
<g id="r50"><text class="l" transform="matrix(1.12 0 0 1 1745 1679.5)">Bacillus axarquiensis NRRL B-41617</text><text class="n" transform="matrix(1.12 0 0 1 2430 1679.5)">19</text><text class="n" transform="matrix(1.12 0 0 1 2503 1679.5)">16</text><rect class="ie" x="2667" y="1655" width="36" height="26.5"/><rect class="p1" x="2716" y="1655" width="34" height="26.5"/><rect class="w" x="2764" y="1655" width="37" height="26.5"/><rect class="w" x="2835" y="1655" width="43" height="26.5"/></g>
<g id="r51"><text class="l b" transform="matrix(1.12 0 0 1 1745 1706)">Bacillus mojavensis RO-H-1</text><text class="n b" transform="matrix(1.12 0 0 1 2430 1706)">18</text><text class="n b" transform="matrix(1.12 0 0 1 2503 1706)">15</text><rect class="ij" x="2667" y="1681.5" width="36" height="26.5"/><rect class="p1" x="2716" y="1681.5" width="34" height="26.5"/><rect class="w" x="2764" y="1681.5" width="37" height="26.5"/><rect class="w" x="2835" y="1681.5" width="43" height="26.5"/></g>
<g id="r52"><text class="l b" transform="matrix(1.12 0 0 1 1745 1732.5)">Bacillus mojavensis KCTC 3706</text><text class="n b" transform="matrix(1.12 0 0 1 2430 1732.5)">18</text><text class="n b" transform="matrix(1.12 0 0 1 2503 1732.5)">15</text><rect class="ij" x="2667" y="1708" width="36" height="34"/><rect class="p1" x="2716" y="1708" width="34" height="34"/><rect class="w" x="2764" y="1708" width="37" height="34"/><rect class="w" x="2835" y="1708" width="43" height="34"/></g>
<g id="r53"><text class="l" transform="matrix(1.12 0 0 1 1745 1785.3)">'Bacillus altitudinis_BT2.2'</text><text class="n" transform="matrix(1.12 0 0 1 2430 1785.3)">11</text><text class="n" transform="matrix(1.12 0 0 1 2503 1785.3)">19</text><rect class="ie" x="2667" y="1760" width="36" height="26.6"/><rect class="pv" x="2716" y="1760" width="34" height="26.6"/><rect class="w" x="2764" y="1760" width="37" height="26.6"/><rect class="w" x="2835" y="1760" width="43" height="26.6"/><use href="#cross" x="2932" y="1777.3"/></g>
<g id="r54"><text class="l" transform="matrix(1.12 0 0 1 1745 1811.9)">'Bacillus cellulasensis NCIM 5461'</text><text class="n" transform="matrix(1.12 0 0 1 2430 1811.9)">11</text><text class="n" transform="matrix(1.12 0 0 1 2503 1811.9)">19</text><rect class="ie" x="2667" y="1786.6" width="36" height="26.6"/><rect class="pv" x="2716" y="1786.6" width="34" height="26.6"/><rect class="w" x="2764" y="1786.6" width="37" height="26.6"/><rect class="w" x="2835" y="1786.6" width="43" height="26.6"/></g>
<g id="r55"><text class="l b" transform="matrix(1.12 0 0 1 1745 1838.5)">Bacillus altitudinis DSM 21631</text><text class="n b" transform="matrix(1.12 0 0 1 2430 1838.5)">11</text><text class="n b" transform="matrix(1.12 0 0 1 2503 1838.5)">19</text><rect class="ie" x="2667" y="1813.2" width="36" height="26.6"/><rect class="pv" x="2716" y="1813.2" width="34" height="26.6"/><rect class="w" x="2764" y="1813.2" width="37" height="26.6"/><rect class="w" x="2835" y="1813.2" width="43" height="26.6"/></g>
<g id="r56"><text class="l" transform="matrix(1.12 0 0 1 1745 1865.1)">Bacillus invictae DSM 26896</text><text class="n" transform="matrix(1.12 0 0 1 2430 1865.1)">11</text><text class="n" transform="matrix(1.12 0 0 1 2503 1865.1)">19</text><rect class="ie" x="2667" y="1839.8" width="36" height="26.6"/><rect class="p0" x="2716" y="1839.8" width="34" height="26.6"/><rect class="w" x="2764" y="1839.8" width="37" height="26.6"/><rect class="w" x="2835" y="1839.8" width="43" height="26.6"/></g>
<g id="r57"><text class="l b" transform="matrix(1.12 0 0 1 1745 1891.7)">Bacillus xiamenensis HYC-10</text><text class="n b" transform="matrix(1.12 0 0 1 2430 1891.7)">14</text><text class="n b" transform="matrix(1.12 0 0 1 2503 1891.7)">11</text><rect class="ie" x="2667" y="1866.4" width="36" height="26.6"/><rect class="p0" x="2716" y="1866.4" width="34" height="26.6"/><rect class="w" x="2764" y="1866.4" width="37" height="26.6"/><rect class="w" x="2835" y="1866.4" width="43" height="26.6"/></g>
<g id="r58"><text class="l b" transform="matrix(1.12 0 0 1 1745 1918.3)">Bacillus zhangzhouensis MCCC 1A08372</text><text class="n b" transform="matrix(1.12 0 0 1 2430 1918.3)">6</text><text class="n b" transform="matrix(1.12 0 0 1 2503 1918.3)">4</text><rect class="ie" x="2667" y="1893" width="36" height="26.6"/><rect class="p0" x="2716" y="1893" width="34" height="26.6"/><rect class="w" x="2764" y="1893" width="37" height="26.6"/><rect class="w" x="2835" y="1893" width="43" height="26.6"/></g>
<g id="r59"><text class="l b" transform="matrix(1.12 0 0 1 1745 1944.9)">Bacillus safensis FO-36b</text><text class="n b" transform="matrix(1.12 0 0 1 2430 1944.9)">12</text><text class="n b" transform="matrix(1.12 0 0 1 2503 1944.9)">9</text><rect class="ie" x="2667" y="1919.6" width="36" height="26.6"/><rect class="p0" x="2716" y="1919.6" width="34" height="26.6"/><rect class="w" x="2764" y="1919.6" width="37" height="26.6"/><rect class="w" x="2835" y="1919.6" width="43" height="26.6"/></g>
<g id="r60"><text class="l b" transform="matrix(1.12 0 0 1 1745 1971.5)">Bacillus safensis subsp. osmophilus CECT 9344T</text><text class="n b" transform="matrix(1.12 0 0 1 2430 1971.5)">2</text><text class="n b" transform="matrix(1.12 0 0 1 2503 1971.5)">1</text><rect class="ie" x="2667" y="1946.2" width="36" height="26.6"/><rect class="pv" x="2716" y="1946.2" width="34" height="26.6"/><rect class="w" x="2764" y="1946.2" width="37" height="26.6"/><rect class="w" x="2835" y="1946.2" width="43" height="26.6"/></g>
<g id="r61"><text class="l b" transform="matrix(1.12 0 0 1 1745 1998.1)">Bacillus australimaris NH7I_1</text><text class="n b" transform="matrix(1.12 0 0 1 2430 1998.1)">5</text><text class="n b" transform="matrix(1.12 0 0 1 2503 1998.1)">3</text><rect class="ie" x="2667" y="1972.8" width="36" height="26.6"/><rect class="pv" x="2716" y="1972.8" width="34" height="26.6"/><rect class="w" x="2764" y="1972.8" width="37" height="26.6"/><rect class="w" x="2835" y="1972.8" width="43" height="26.6"/></g>
<g id="r62"><text class="l b" transform="matrix(1.12 0 0 1 1745 2024.7)">Bacillus pumilus ATCC 7061</text><text class="n b" transform="matrix(1.12 0 0 1 2430 2024.7)">7</text><text class="n b" transform="matrix(1.12 0 0 1 2503 2024.7)">8</text><rect class="ie" x="2667" y="1999.4" width="36" height="26.6"/><rect class="p0" x="2716" y="1999.4" width="34" height="26.6"/><rect class="k" x="2764" y="1999.4" width="37" height="26.6"/><rect class="w" x="2835" y="1999.4" width="43" height="26.6"/></g>
<g id="r63"><text class="l b" transform="matrix(1.12 0 0 1 1745 2051.3)">Bacillus pumilus NCTC 10337</text><text class="n b" transform="matrix(1.12 0 0 1 2430 2051.3)">7</text><text class="n b" transform="matrix(1.12 0 0 1 2503 2051.3)">8</text><rect class="ie" x="2667" y="2026" width="36" height="34"/><rect class="p0" x="2716" y="2026" width="34" height="34"/><rect class="k" x="2764" y="2026" width="37" height="34"/><rect class="w" x="2835" y="2026" width="43" height="34"/></g>
</svg>
